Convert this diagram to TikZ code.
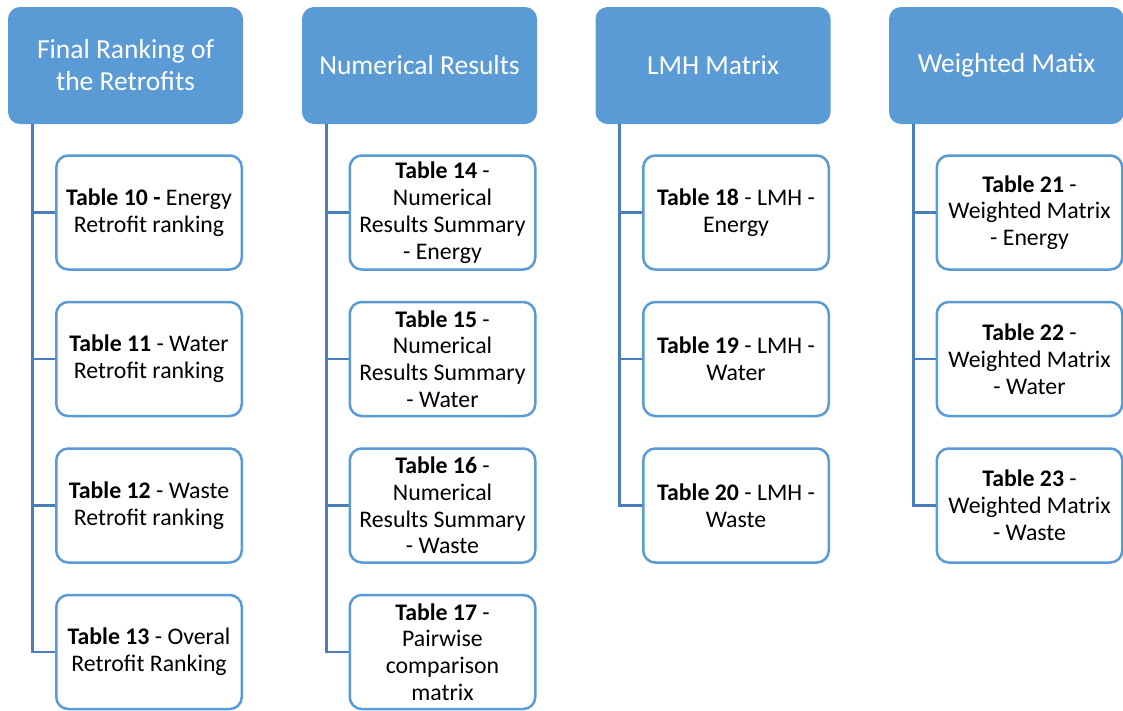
\documentclass[tikz,border=0pt]{standalone}
\usepackage{fontspec}
\setmainfont{Carlito}
\usetikzlibrary{calc}
\definecolor{hdrblue}{HTML}{5B9BD5}
\definecolor{linkblue}{HTML}{4A7EBB}
\tikzset{
  hdr/.style={fill=hdrblue, rounded corners=12, minimum width=235, minimum height=117,
    text=white, align=center, inner sep=0, font=\fontsize{27.5}{32}\selectfont},
  leaf/.style={draw=hdrblue, line width=2.5pt, fill=white, rounded corners=12,
    minimum width=185.5, minimum height=114, align=center, inner sep=0,
    font=\fontsize{23.8}{26.8}\selectfont},
  conn/.style={draw=linkblue, line width=2.8pt}
}
\begin{document}
\begin{tikzpicture}[x=1pt,y=-1pt]
\fill[white] (0,0) rectangle (1123,710);
\useasboundingbox (0,0) rectangle (1123,710);

% column headers
\node[hdr] (h1) at (125.5,65.5) {Final Ranking of\\the Retrofits};
\node[hdr] (h2) at (419.5,65.5) {Numerical Results};
\node[hdr] (h3) at (713,65.5) {LMH Matrix};
\node[hdr] (h4) at (1006.5,65.5) {Weighted Matix};

% column 1
\node[leaf] (c11) at (149,212.5) {\textbf{Table 10 -} Energy\\Retrofit ranking};
\node[leaf] (c12) at (149,359) {\textbf{Table 11} - Water\\Retrofit ranking};
\node[leaf] (c13) at (149,505.5) {\textbf{Table 12} - Waste\\Retrofit ranking};
\node[leaf] (c14) at (149,652) {\textbf{Table 13} - Overal\\Retrofit Ranking};

% column 2
\node[leaf] (c21) at (442.5,212.5) {\textbf{Table 14} -\\Numerical\\Results Summary\\- Energy};
\node[leaf] (c22) at (442.5,359) {\textbf{Table 15} -\\Numerical\\Results Summary\\- Water};
\node[leaf] (c23) at (442.5,505.5) {\textbf{Table 16} -\\Numerical\\Results Summary\\- Waste};
\node[leaf] (c24) at (442.5,652) {\textbf{Table 17} -\\Pairwise\\comparison\\matrix};

% column 3
\node[leaf] (c31) at (736,212.5) {\textbf{Table 18} - LMH -\\Energy};
\node[leaf] (c32) at (736,359) {\textbf{Table 19} - LMH -\\Water};
\node[leaf] (c33) at (736,505.5) {\textbf{Table 20} - LMH -\\Waste};

% column 4
\node[leaf] (c41) at (1029.5,212.5) {\textbf{Table 21} -\\Weighted Matrix\\- Energy};
\node[leaf] (c42) at (1029.5,359) {\textbf{Table 22} -\\Weighted Matrix\\- Water};
\node[leaf] (c43) at (1029.5,505.5) {\textbf{Table 23} -\\Weighted Matrix\\- Waste};

% trunks and branches
\foreach \c/\n in {1/4,2/4,3/3,4/3}{
  \foreach \k in {1,...,\n}{
    \draw[conn] ($(h\c.south west)+(24.5,0)$) |- (c\c\k.west);
  }
}
\end{tikzpicture}
\end{document}
